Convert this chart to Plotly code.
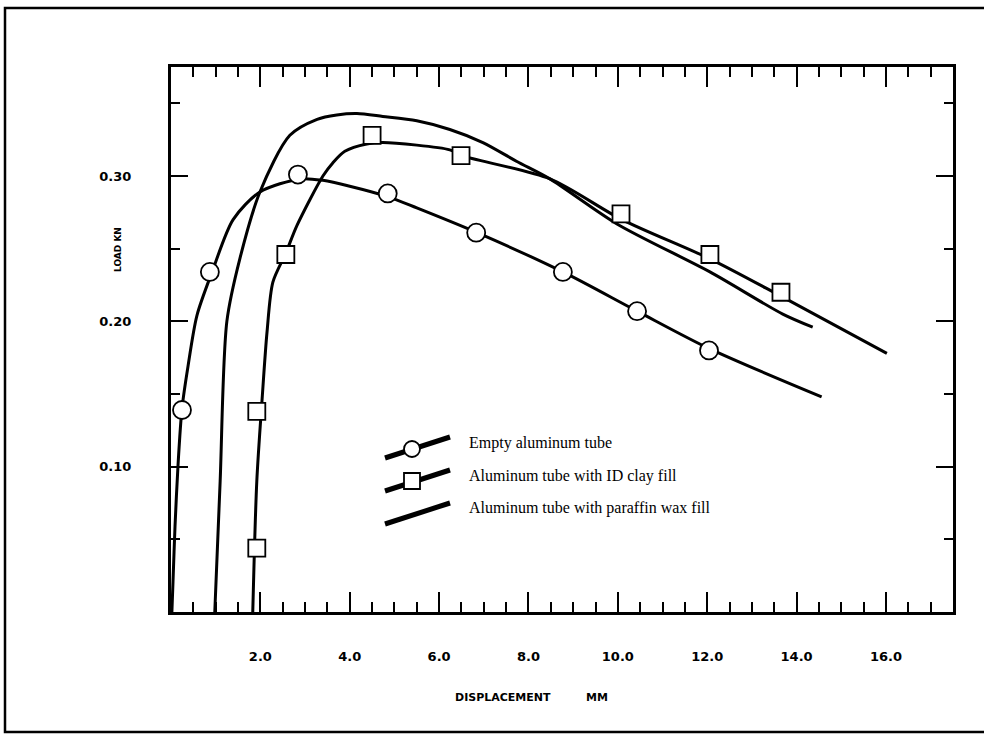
import plotly.graph_objects as go

# ---------------- data ----------------
empty_curve_x = [0.02, 0.045, 0.09, 0.157, 0.246, 0.38, 0.58, 0.92, 1.39, 1.99, 2.89, 3.40, 4.0, 4.83, 5.5, 6.85, 8.77, 10.43, 12.06, 14.56]
empty_curve_y = [0.0, 0.021, 0.059, 0.101, 0.140, 0.169, 0.204, 0.234, 0.270, 0.289, 0.298, 0.297, 0.293, 0.286, 0.278, 0.261, 0.234, 0.207, 0.181, 0.148]
empty_pts_x = [0.246, 0.87, 2.84, 4.85, 6.83, 8.77, 10.43, 12.04]
empty_pts_y = [0.139, 0.234, 0.301, 0.288, 0.261, 0.234, 0.207, 0.180]

clay_curve_x = [1.83, 1.92, 2.04, 2.15, 2.28, 2.57, 2.82, 3.40, 3.62, 3.89, 4.38, 4.74, 6.24, 6.51, 8.48, 10.09, 12.06, 13.67, 16.02]
clay_curve_y = [0.0, 0.090, 0.147, 0.193, 0.227, 0.247, 0.266, 0.300, 0.309, 0.317, 0.322, 0.323, 0.318, 0.314, 0.298, 0.270, 0.243, 0.217, 0.178]
clay_pts_x = [1.92, 1.92, 2.57, 4.50, 6.49, 10.07, 12.06, 13.65]
clay_pts_y = [0.044, 0.138, 0.246, 0.328, 0.314, 0.274, 0.246, 0.220]

wax_curve_x = [0.98, 1.10, 1.25, 1.54, 1.99, 2.66, 3.27, 3.71, 4.16, 4.74, 5.50, 6.24, 6.98, 7.74, 8.48, 9.98, 12.06, 13.69, 14.36]
wax_curve_y = [0.0, 0.090, 0.200, 0.243, 0.289, 0.328, 0.339, 0.342, 0.343, 0.341, 0.338, 0.332, 0.323, 0.310, 0.298, 0.267, 0.234, 0.205, 0.196]

x_tickvals = [2, 4, 6, 8, 10, 12, 14, 16]
x_ticktext = ["2.0", "4.0", "6.0", "8.0", "10.0", "12.0", "14.0", "16.0"]
y_tickvals = [0.10, 0.20, 0.30]
y_ticktext = ["0.10", "0.20", "0.30"]

legend_names = ["Empty aluminum tube", "Aluminum tube with ID clay fill", "Aluminum tube with paraffin wax fill"]

# ---------------- layout geometry ----------------
W, H = 984, 734
ML, MT = 171, 67
PW, PH = 782, 545
MR, MB = W - ML - PW, H - MT - PH


def px(x):
    """window pixel x -> paper x"""
    return (x - ML) / PW


def py(y):
    """window pixel y -> paper y"""
    return (MT + PH - y) / PH


fig = go.Figure()
LW = 3
fig.add_trace(go.Scatter(x=wax_curve_x, y=wax_curve_y, mode="lines",
                         line=dict(color="black", width=LW, shape="spline", smoothing=0.8),
                         showlegend=False, hoverinfo="skip"))
fig.add_trace(go.Scatter(x=clay_curve_x, y=clay_curve_y, mode="lines",
                         line=dict(color="black", width=LW, shape="spline", smoothing=0.8),
                         showlegend=False, hoverinfo="skip"))
fig.add_trace(go.Scatter(x=empty_curve_x, y=empty_curve_y, mode="lines",
                         line=dict(color="black", width=LW, shape="spline", smoothing=0.8),
                         showlegend=False, hoverinfo="skip"))
fig.add_trace(go.Scatter(x=clay_pts_x, y=clay_pts_y, mode="markers", name=legend_names[1],
                         marker=dict(symbol="square", size=17, color="white",
                                     line=dict(color="black", width=1.8)),
                         showlegend=False))
fig.add_trace(go.Scatter(x=empty_pts_x, y=empty_pts_y, mode="markers", name=legend_names[0],
                         marker=dict(symbol="circle", size=18, color="white",
                                     line=dict(color="black", width=1.8)),
                         showlegend=False))

tickfont = dict(family="DejaVu Sans", size=13, color="black", weight="bold")

fig.update_xaxes(range=[0, 17.5], tickmode="array", tickvals=x_tickvals, ticktext=x_ticktext,
                 ticks="inside", ticklen=20, tickwidth=2, tickcolor="black",
                 showline=True, linecolor="black", linewidth=3, mirror="ticks",
                 showgrid=False, zeroline=False, tickfont=tickfont, ticklabelstandoff=30,
                 minor=dict(dtick=0.5, tick0=0, ticks="inside", ticklen=10, tickwidth=2,
                            tickcolor="black", showgrid=False))
fig.update_yaxes(range=[0, 0.375], tickmode="array", tickvals=y_tickvals, ticktext=y_ticktext,
                 ticks="inside", ticklen=17, tickwidth=2, tickcolor="black",
                 showline=True, linecolor="black", linewidth=3, mirror="ticks",
                 showgrid=False, zeroline=False, tickfont=tickfont, ticklabelstandoff=34,
                 minor=dict(dtick=0.05, tick0=0, ticks="inside", ticklen=9, tickwidth=2,
                            tickcolor="black", showgrid=False))

shapes = []
# outer frame of the figure
shapes.append(dict(type="rect", xref="paper", yref="paper",
                   x0=px(5), x1=px(1000), y0=py(732), y1=py(8),
                   line=dict(color="black", width=2.5), fillcolor="rgba(0,0,0,0)", layer="below"))

# legend symbols (slanted thick lines)
leg_rows = [(458, 437), (491, 470), (524, 503)]
for (ya, yb) in leg_rows:
    shapes.append(dict(type="line", xref="paper", yref="paper",
                       x0=px(385), y0=py(ya), x1=px(450), y1=py(yb),
                       line=dict(color="black", width=5)))
cx, cy = 412, 449
shapes.append(dict(type="circle", xref="paper", yref="paper", xsizemode="pixel", ysizemode="pixel",
                   xanchor=px(cx), yanchor=py(cy), x0=-8, x1=8, y0=-8, y1=8,
                   line=dict(color="black", width=1.8), fillcolor="white"))
sx, sy = 412, 481
shapes.append(dict(type="rect", xref="paper", yref="paper", xsizemode="pixel", ysizemode="pixel",
                   xanchor=px(sx), yanchor=py(sy), x0=-8, x1=8, y0=-8, y1=8,
                   line=dict(color="black", width=1.8), fillcolor="white"))

annotations = []
for name, yc in zip(legend_names, [443, 476, 508]):
    annotations.append(dict(text=name, xref="paper", yref="paper", x=px(467), y=py(yc),
                            xanchor="left", yanchor="middle", showarrow=False,
                            font=dict(family="Liberation Serif", size=16, color="black")))

titlefont = dict(family="DejaVu Sans", size=11, color="black", weight="bold")
annotations.append(dict(text="DISPLACEMENT", xref="paper", yref="paper", x=px(503), y=py(697),
                        xanchor="center", yanchor="middle", showarrow=False, font=titlefont))
annotations.append(dict(text="MM", xref="paper", yref="paper", x=px(597), y=py(697),
                        xanchor="center", yanchor="middle", showarrow=False, font=titlefont))
annotations.append(dict(text="LOAD KN", xref="paper", yref="paper", x=px(118), y=py(250),
                        xanchor="center", yanchor="middle", showarrow=False, textangle=-90,
                        font=dict(family="DejaVu Sans", size=9, color="black", weight="bold")))

fig.update_layout(width=W, height=H, margin=dict(l=ML, r=MR, t=MT, b=MB),
                  paper_bgcolor="white", plot_bgcolor="white",
                  shapes=shapes, annotations=annotations, showlegend=False)

# remove the browser's default 8px body margin so the figure fills the window exactly
fig.write_html("out.html", config={"displayModeBar": False},
               post_script="document.body.style.margin='0';document.body.style.overflow='hidden';")
